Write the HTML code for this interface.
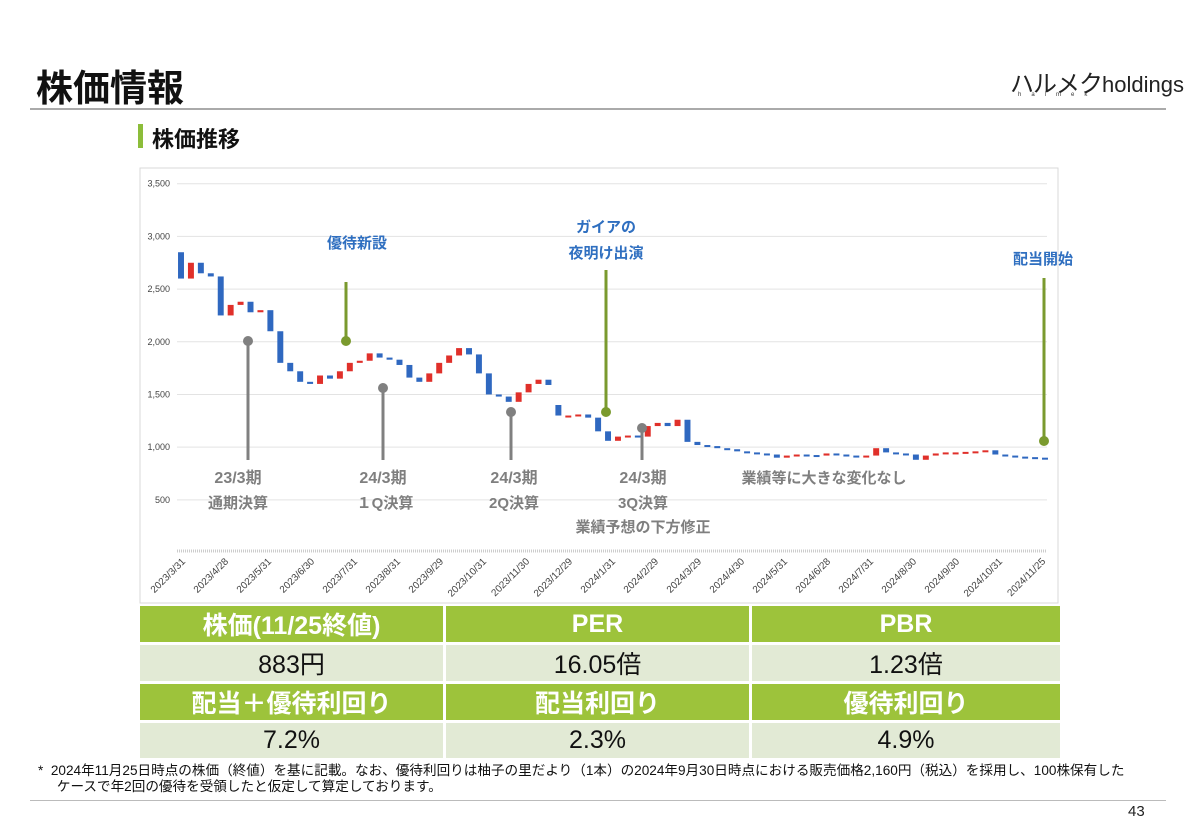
<!DOCTYPE html>
<html><head><meta charset="utf-8">
<style>
body{margin:0;width:1200px;height:824px;background:#fff;position:relative;overflow:hidden;font-family:"Liberation Sans","Noto Sans CJK JP",sans-serif}
.abs{position:absolute}
td{text-align:center;padding:0}
</style></head><body>
<div class="abs" style="left:36px;top:58px;font-size:37px;font-weight:bold;color:#111">株価情報</div>
<div class="abs" style="left:1010px;top:64px;font-size:24px;color:#222;white-space:nowrap"><span style="letter-spacing:-1px">ハルメク</span><span style="font-size:22px">holdings</span></div>
<div class="abs" style="left:1018px;top:92px;font-size:6px;color:#333;letter-spacing:10px">halmek</div>
<div class="abs" style="left:30px;top:108px;width:1136px;height:2px;background:#aaa"></div>
<div class="abs" style="left:138px;top:124px;width:5px;height:24px;background:#8cbd3a"></div>
<div class="abs" style="left:152px;top:122px;font-size:22px;font-weight:bold;color:#111">株価推移</div>

<svg class="abs" style="left:0;top:0" width="1200" height="824" id="chart">
<rect x="140" y="168" width="918" height="435" fill="#fff" stroke="#d9d9d9"/>
</svg>

<table class="abs" style="left:137px;top:603px;width:926px;border-collapse:separate;border-spacing:3px 3px">
<tr style="height:36px;background:#9dc33b;color:#fff;font-weight:bold;font-size:25px">
<td style="width:303px">株価(11/25終値)</td><td style="width:303px">PER</td><td>PBR</td></tr>
<tr style="height:35px;background:#e2ead5;color:#111;font-size:25px">
<td>883円</td><td>16.05倍</td><td>1.23倍</td></tr>
<tr style="height:35px;background:#9dc33b;color:#fff;font-weight:bold;font-size:25px">
<td>配当＋優待利回り</td><td>配当利回り</td><td>優待利回り</td></tr>
<tr style="height:35px;background:#e2ead5;color:#111;font-size:25px">
<td>7.2%</td><td>2.3%</td><td>4.9%</td></tr>
</table>

<div class="abs" style="left:38px;top:763px;font-size:13.6px;color:#111;line-height:16px;white-space:nowrap">*&nbsp;&nbsp;2024年11月25日時点の株価（終値）を基に記載。なお、優待利回りは柚子の里だより（1本）の2024年9月30日時点における販売価格2,160円（税込）を採用し、100株保有した<br>&nbsp;&nbsp;&nbsp;&nbsp;&nbsp;ケースで年2回の優待を受領したと仮定して算定しております。</div>
<div class="abs" style="left:30px;top:800px;width:1136px;height:1px;background:#bbb"></div>
<div class="abs" style="left:1128px;top:803px;font-size:15px;color:#222">43</div>

<script>
const yTicks=[500,1000,1500,2000,2500,3000,3500];
const xLabels=["2023/3/31","2023/4/28","2023/5/31","2023/6/30","2023/7/31","2023/8/31","2023/9/29","2023/10/31","2023/11/30","2023/12/29","2024/1/31","2024/2/29","2024/3/29","2024/4/30","2024/5/31","2024/6/28","2024/7/31","2024/8/30","2024/9/30","2024/10/31","2024/11/25"];
const closes=[2600,2750,2650,2620,2250,2350,2380,2280,2300,2100,1800,1720,1620,1600,1680,1650,1720,1800,1820,1890,1850,1830,1780,1660,1620,1700,1800,1870,1940,1880,1700,1500,1480,1430,1520,1600,1640,1590,1300,1300,1310,1280,1150,1060,1100,1110,1100,1200,1230,1200,1260,1050,1020,1010,990,980,960,950,940,930,900,920,930,925,920,940,930,920,910,920,990,950,940,930,880,920,940,950,950,955,960,970,930,920,910,905,900,885];
const opens=[2850,2600,2750,2650,2620,2250,2350,2380,2280,2300,2100,1800,1720,1620,1600,1680,1650,1720,1800,1820,1890,1850,1830,1780,1660,1620,1700,1800,1870,1940,1880,1700,1500,1480,1430,1520,1600,1640,1400,1300,1300,1310,1280,1150,1060,1100,1110,1100,1200,1230,1200,1260,1050,1020,1010,990,980,960,950,940,930,900,920,930,925,920,940,930,920,910,920,990,950,940,930,880,920,940,950,950,955,960,970,930,920,910,905,900];
const X0=181,X1=1045,Y0=552.5,KY=0.10536;
const yS=v=>Y0-v*KY;
const xS=i=>X0+(X1-X0)*i/(closes.length-1);
const svg=document.getElementById('chart');
const NS='http://www.w3.org/2000/svg';
function mk(t,a){const e=document.createElementNS(NS,t);for(const k in a)e.setAttribute(k,a[k]);svg.appendChild(e);return e;}
yTicks.forEach(v=>{
 const g=mk('line',{x1:177,x2:1047,y1:yS(v),y2:yS(v),stroke:'#e3e3e3','stroke-width':1});
 
 
 const t=mk('text',{x:170,y:yS(v)+3,'text-anchor':'end','font-size':9,fill:'#444'});
 t.textContent=v.toLocaleString('en-US');
 
 
});
const ax=mk('line',{x1:177,x2:1047,y1:551,y2:551,stroke:'#ccc','stroke-width':3,'stroke-dasharray':'1 1'});


xLabels.forEach((l,i)=>{
 const x=186+(1046-186)*i/(xLabels.length-1);
 const t=mk('text',{x:x,y:562,'text-anchor':'end','font-size':10,fill:'#444',transform:`rotate(-45 ${x} 562)`});
 t.textContent=l;
 
 
});
const step=(X1-X0)/(closes.length-1);
closes.forEach((c,i)=>{
 const o=opens[i],x=xS(i);
 const up=c>=o;
 const y1=yS(Math.max(o,c)),y2=yS(Math.min(o,c));
 const r=mk('rect',{x:x-step*0.3,y:y1,width:step*0.6,height:Math.max(2,y2-y1),fill:up?'#e0302a':'#2f68c0'});
 
 
});
function note(x,yTop,yDot,col,name){
 const l=mk('line',{x1:x,x2:x,y1:yTop,y2:460,stroke:col,'stroke-width':3});
 if(col==='#7a9a2e'){l.setAttribute('y1',yTop);l.setAttribute('y2',yDot);}
 else{l.setAttribute('y1',yDot);}
 
 
 const d=mk('circle',{cx:x,cy:yDot,r:5,fill:col});
 
 
}
note(248,341,341,'#808080','fy23-results');
note(383,388,388,'#808080','q1-results');
note(511,412,412,'#808080','q2-results');
note(642,428,428,'#808080','q3-results');
note(346,282,341,'#7a9a2e','benefit-start');
note(606,270,412,'#7a9a2e','tv-appearance');
note(1044,278,441,'#7a9a2e','dividend-start');
function txt(x,y,s,col,name,sz){
 const t=mk('text',{x:x,y:y,'text-anchor':'middle','font-size':sz||15,'font-weight':'bold',fill:col});
 t.textContent=s;
 
 
}
const G='#7f7f7f',B='#2f6fc0';
txt(238,483,'23/3期',G,'fy23-label',16);txt(238,508,'通期決算',G,'fy23-sublabel');
txt(383,483,'24/3期',G,'q1-label',16);txt(385,508,'１Q決算',G,'q1-sublabel');
txt(514,483,'24/3期',G,'q2-label',16);txt(514,508,'2Q決算',G,'q2-sublabel');
txt(643,483,'24/3期',G,'q3-label',16);txt(643,508,'3Q決算',G,'q3-sublabel');
txt(643,532,'業績予想の下方修正',G,'q3-revision-label');
txt(824,483,'業績等に大きな変化なし',G,'no-change-label');
txt(357,248,'優待新設',B,'benefit-start-label');
txt(606,232,'ガイアの',B,'tv-label-1');txt(606,258,'夜明け出演',B,'tv-label-2');
txt(1043,264,'配当開始',B,'dividend-start-label');
</script>
</body></html>
